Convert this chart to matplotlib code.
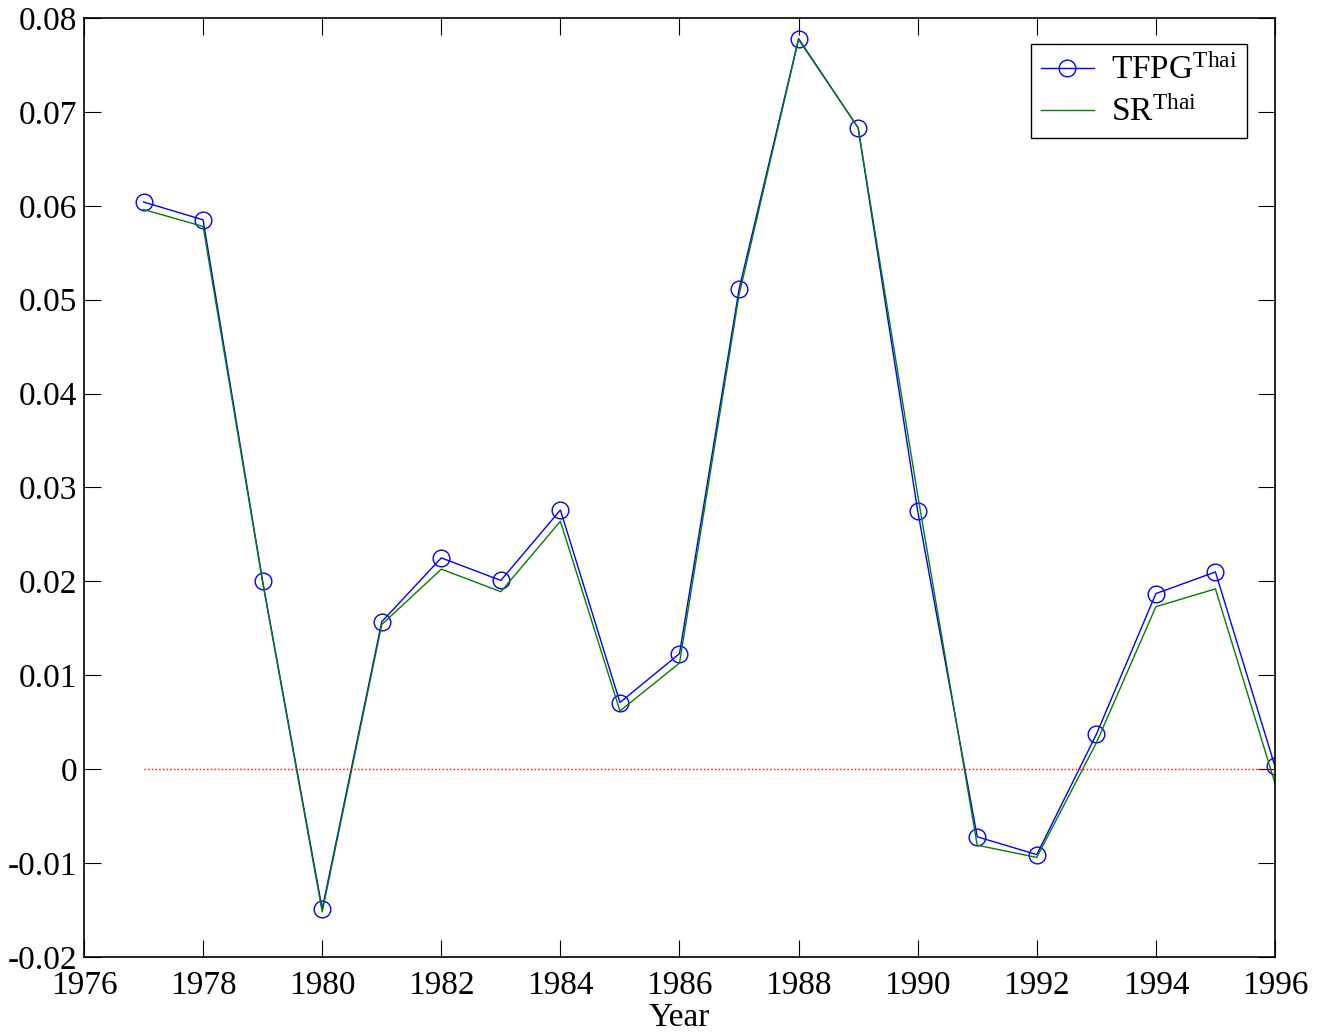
"""TFPG vs SR para a Tailandia, 1977-1996."""

import matplotlib
matplotlib.use("Agg")
import matplotlib.pyplot as plt

plt.rcParams.update({
    "font.family": "Liberation Serif",
    "font.size": 24,
    "mathtext.fontset": "custom",
    "mathtext.rm": "Liberation Serif",
    "mathtext.it": "Liberation Serif:italic",
    "xtick.direction": "in",
    "ytick.direction": "in",
    "xtick.top": True,
    "ytick.right": True,
})

years = list(range(1977, 1997))
tfpg = [0.0604, 0.0585, 0.0200, -0.0149, 0.0157, 0.0225, 0.0201, 0.0276, 0.0071, 0.0123,
        0.0511, 0.0778, 0.0683, 0.0275, -0.0072, -0.0091, 0.0037, 0.0187, 0.0210, 0.0003]
sr = [0.0596, 0.0578, 0.0199, -0.0152, 0.0154, 0.0213, 0.0189, 0.0264, 0.0062, 0.0113,
      0.0505, 0.0777, 0.0683, 0.0292, -0.0081, -0.0094, 0.0028, 0.0173, 0.0192, -0.0015]
zero_x = [1977, 1996]
zero_y = [0, 0]

fig = plt.figure(figsize=(13.23, 10.32), dpi=100)
ax = fig.add_axes([0.0635, 0.0727, 0.9002, 0.9099])

ax.plot(years, tfpg, "-o", color="#0000ff", lw=1.0, ms=12, mfc="none", mew=1.0,
        label=r"TFPG$^{\mathrm{Thai}}$")
ax.plot(years, sr, "-", color="#008000", lw=1.0, label=r"SR$^{\mathrm{Thai}}$")
ax.plot(zero_x, zero_y, ":", color="#ff0000", lw=1.0)

ax.set_xlim(1976, 1996)
ax.set_ylim(-0.02, 0.08)
ax.set_xticks(range(1976, 1997, 2))
ax.set_yticks([-0.02, -0.01, 0, 0.01, 0.02, 0.03, 0.04, 0.05, 0.06, 0.07, 0.08])
ax.set_yticklabels(["-0.02", "-0.01", "0", "0.01", "0.02", "0.03", "0.04", "0.05",
                    "0.06", "0.07", "0.08"])
ax.tick_params(length=12, width=0.8)
ax.tick_params(axis="x", pad=10)
ax.tick_params(axis="y", pad=5)
for s in ax.spines.values():
    s.set_linewidth(1.2)
ax.set_xlabel("Year", labelpad=1)

leg = ax.legend(loc="upper right", bbox_to_anchor=(0.9765, 0.972), borderaxespad=0,
                fancybox=False, edgecolor="black", framealpha=1, handlelength=1.6,
                handletextpad=0.5, borderpad=0.3, labelspacing=0.3)
leg.get_frame().set_linewidth(1.0)

plt.savefig("out.png", dpi=100)
plt.close()
